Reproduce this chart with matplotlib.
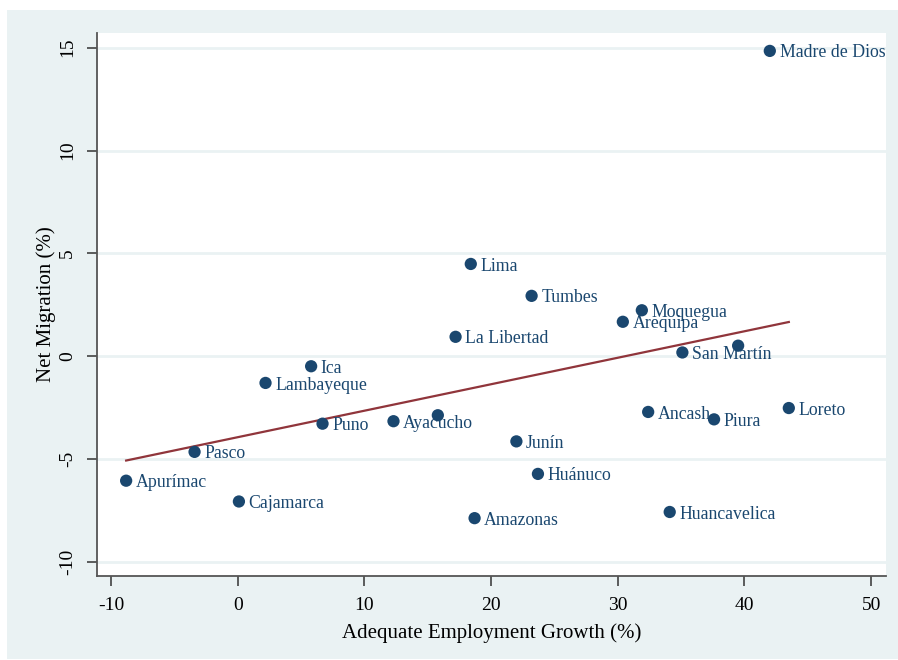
import numpy as np
import matplotlib
matplotlib.use("Agg")
from matplotlib import pyplot as plt
import matplotlib.patches as patches

# regional data: adequate employment growth (%) vs net migration (%)
regions = ["Madre de Dios", "Lima", "Tumbes", "Moquegua", "Arequipa", "La Libertad",
           "San Martín", "", "Ica", "Lambayeque", "Loreto", "Ancash", "Piura",
           "Ayacucho", "", "Puno", "Junín", "Pasco", "Huánuco", "Apurímac",
           "Cajamarca", "Huancavelica", "Amazonas"]
emp_growth = [42.0, 18.4, 23.2, 31.9, 30.4, 17.2,
              35.1, 39.5, 5.8, 2.2, 43.5, 32.4, 37.6,
              12.3, 15.8, 6.7, 22.0, -3.4, 23.7, -8.8,
              0.1, 34.1, 18.7]
net_migration = [14.84, 4.49, 2.94, 2.24, 1.68, 0.95,
                 0.19, 0.52, -0.48, -1.29, -2.51, -2.70, -3.06,
                 -3.15, -2.86, -3.27, -4.13, -4.64, -5.71, -6.04,
                 -7.05, -7.56, -7.86]

# fitted line endpoints
fit_x = [-8.8, 43.5]
fit_y = [-5.06, 1.67]

bg = "#eaf2f3"
navy = "#1a476f"
maroon = "#90353b"

plt.rcParams["font.family"] = ["Liberation Serif", "DejaVu Serif"]
plt.rcParams["axes.unicode_minus"] = False

fig = plt.figure(figsize=(8.98, 6.6), dpi=100, facecolor="white")
fig.patches.append(patches.Rectangle((7 / 898, 1 / 660), 891 / 898, 649 / 660,
                                     transform=fig.transFigure, facecolor=bg,
                                     edgecolor="none", zorder=-10))

ax = fig.add_axes([97 / 898, 1 - 576 / 660, 789 / 898, 543 / 660])
ax.set_facecolor("white")

ax.plot(fit_x, fit_y, color=maroon, lw=1.6, zorder=2)

ax.scatter(emp_growth, net_migration, s=78, color=navy, edgecolors="none", zorder=3)
for name, xi, yi in zip(regions, emp_growth, net_migration):
    if name:
        ax.annotate(name, (xi, yi), xytext=(7, -1.5), textcoords="offset points",
                    ha="left", va="center", color=navy, fontsize=12.8, zorder=4)

ax.set_xlim(-11.1, 51.17)
ax.set_ylim(-10.67, 15.71)
ax.set_xticks([-10, 0, 10, 20, 30, 40, 50])
ax.set_yticks([-10, -5, 0, 5, 10, 15])
ax.grid(axis="y", color=bg, lw=2)
ax.set_axisbelow(True)

for side in ("top", "right"):
    ax.spines[side].set_visible(False)
for side in ("left", "bottom"):
    ax.spines[side].set_color("#555555")
    ax.spines[side].set_linewidth(1.3)

ax.tick_params(axis="both", direction="out", length=7, width=1.1, color="#333333",
               labelsize=14, pad=8)
plt.setp(ax.get_yticklabels(), rotation=90, va="center")

ax.set_xlabel("Adequate Employment Growth (%)", fontsize=15, labelpad=7)
ax.set_ylabel("Net Migration (%)", fontsize=15, labelpad=2)

fig.savefig("out.png", dpi=100, facecolor="white")
